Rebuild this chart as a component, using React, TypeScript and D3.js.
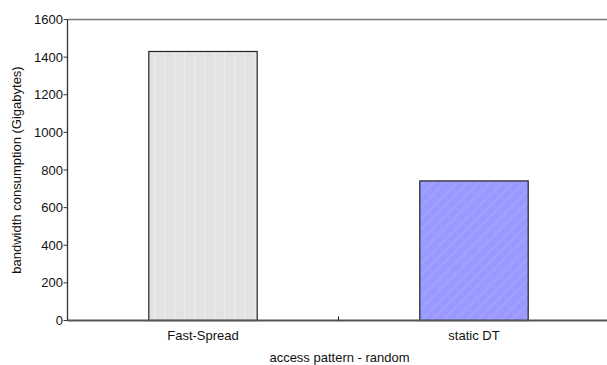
import React from "react";
import * as d3 from "d3";

const categories = ["Fast-Spread", "static DT"];
const values = [1430, 742];
const yTicks = [0, 200, 400, 600, 800, 1000, 1200, 1400, 1600];
const xTitle = "access pattern - random";
const yTitle = "bandwidth consumption (Gigabytes)";

const W = 607;
const H = 365;
const m = { left: 67.5, top: 19.5, bottom: 320.5, right: 609.5 };
const font = "'Liberation Sans', Arial, sans-serif";
const fs = 13;

export default function App() {
  const x = d3.scaleBand<string>().domain(categories).range([m.left, m.right]).paddingInner(0).paddingOuter(0);
  const y = d3.scaleLinear().domain([0, 1600]).range([m.bottom, m.top]);
  const barW = x.bandwidth() * 0.4;
  const fills = ["url(#stripeGray)", "url(#hatchBlue)"];

  return (
    <svg width={W} height={H} style={{ position: "absolute", left: 0, top: 0, background: "#fff" }}>
      <defs>
        <pattern id="stripeGray" patternUnits="userSpaceOnUse" width={10} height={10}>
          <rect width={10} height={10} fill="#e3e3e3" />
          <rect x={4} width={1.2} height={10} fill="#ededed" />
        </pattern>
        <pattern id="hatchBlue" patternUnits="userSpaceOnUse" width={8} height={8} patternTransform="rotate(45)">
          <rect width={8} height={8} fill="#9999ff" />
          <line x1={4} y1={0} x2={4} y2={8} stroke="#b4b4ff" strokeWidth={0.9} strokeDasharray="1.5 0.8" />
        </pattern>
      </defs>

      {/* top frame line */}
      <line x1={m.left} x2={W} y1={m.top} y2={m.top} stroke="#777" strokeWidth={1.5} />

      {/* bars */}
      {categories.map((c, i) => {
        const cx = (x(c) as number) + x.bandwidth() / 2;
        return (
          <rect
            key={c}
            x={cx - barW / 2}
            y={y(values[i])}
            width={barW}
            height={y(0) - y(values[i])}
            fill={fills[i]}
            stroke="#222"
            strokeWidth={1.2}
          />
        );
      })}

      {/* y axis */}
      <line x1={m.left} x2={m.left} y1={m.top} y2={m.bottom} stroke="#333" strokeWidth={1.3} />
      {yTicks.map((t) => (
        <g key={t}>
          <line x1={m.left - 4} x2={m.left} y1={y(t)} y2={y(t)} stroke="#333" strokeWidth={1} />
          <text x={m.left - 4.5} y={y(t)} dy="0.35em" textAnchor="end" fontFamily={font} fontSize={fs} fill="#111">
            {t}
          </text>
        </g>
      ))}

      {/* x axis */}
      <line x1={m.left} x2={W} y1={m.bottom} y2={m.bottom} stroke="#555" strokeWidth={1.8} />
      {categories.slice(1).map((c) => (
        <line key={c} x1={x(c) as number} x2={x(c) as number} y1={m.bottom - 4} y2={m.bottom} stroke="#111" strokeWidth={1} />
      ))}
      {categories.map((c) => (
        <text
          key={c}
          x={(x(c) as number) + x.bandwidth() / 2}
          y={340}
          textAnchor="middle"
          fontFamily={font}
          fontSize={fs}
          fill="#111"
        >
          {c}
        </text>
      ))}

      <text x={339.5} y={362} textAnchor="middle" fontFamily={font} fontSize={fs} fill="#111">
        {xTitle}
      </text>
      <text
        transform={`translate(21, ${(m.top + m.bottom) / 2}) rotate(-90)`}
        textAnchor="middle"
        fontFamily={font}
        fontSize={fs}
        fill="#111"
      >
        {yTitle}
      </text>
    </svg>
  );
}
